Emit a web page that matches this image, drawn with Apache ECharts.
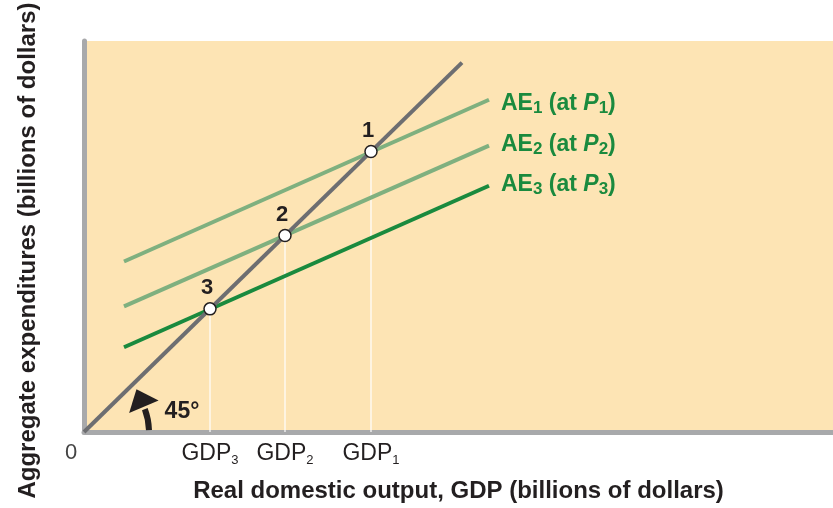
<!DOCTYPE html>
<html>
<head>
<meta charset="utf-8">
<script src="https://cdn.jsdelivr.net/npm/echarts@6/dist/echarts.min.js"></script>
<style>
  html, body { margin: 0; padding: 0; background: #fff; }
  #chart { width: 833px; height: 508px; }
</style>
</head>
<body>
<div id="chart"></div>
<script>
// x runs 0..749, y 0..400 so that y = x is the 45 degree line
const xMax = 749
const yMax = 400

const diagonal = [[0, 0], [378, 378]]
const ae1 = [[40, 174.5], [405, 340]]
const ae2 = [[40, 128.6], [405, 293]]
const ae3 = [[40, 86.7], [405, 252]]

const equilibria = [[287, 287], [201, 201], [126, 126]]
const equilibriumNames = ['1', '2', '3']

const tickValues = [0, 126, 201, 287]
const tickLabels = ['{z|0}', '{m|GDP}{s|3}', '{m|GDP}{s|2}', '{m|GDP}{s|1}']

const aeLabels = [
  '{m|AE}{s|1}{m| (at }{i|P}{s|1}{m|)}',
  '{m|AE}{s|2}{m| (at }{i|P}{s|2}{m|)}',
  '{m|AE}{s|3}{m| (at }{i|P}{s|3}{m|)}'
]

const font = 'Liberation Sans, Arial, Helvetica, sans-serif'
const ink = '#231f20'
const bg = '#fde4b4'
const axisGray = '#a8a9ab'
const diagGray = '#6d6e71'
const lightGreen = '#7fb07f'
const darkGreen = '#1a8a3e'

const chart = echarts.init(document.getElementById('chart'))

function aeSeries(data, color, label, dy) {
  return {
    type: 'line',
    data: data,
    showSymbol: false,
    silent: true,
    z: 2,
    lineStyle: { color: color, width: 4, cap: 'butt' },
    endLabel: {
      show: true,
      distance: 12,
      offset: [0, dy],
      formatter: () => label,
      rich: {
        m: { fontFamily: font, fontSize: 23, fontWeight: 'bold', color: darkGreen, verticalAlign: 'bottom', padding: [0, 0, 2, 0] },
        i: { fontFamily: font, fontSize: 23, fontWeight: 'bold', fontStyle: 'italic', color: darkGreen, verticalAlign: 'bottom', padding: [0, 0, 2, 0] },
        s: { fontFamily: font, fontSize: 17, fontWeight: 'bold', color: darkGreen, verticalAlign: 'bottom' }
      }
    }
  }
}

const dropLines = equilibria.map(p => ({
  type: 'line',
  data: [[p[0], 0], p],
  showSymbol: false,
  silent: true,
  z: 1,
  lineStyle: { color: '#ffffff', width: 1.2 }
}))

chart.setOption({
  animation: false,
  grid: {
    left: 84,
    right: 0,
    top: 41,
    bottom: 75,
    show: true,
    backgroundColor: bg,
    borderWidth: 0
  },
  xAxis: {
    type: 'value',
    min: 0,
    max: xMax,
    splitLine: { show: false },
    axisTick: { show: false },
    axisLine: { lineStyle: { color: axisGray, width: 5 } },
    axisLabel: {
      customValues: tickValues,
      margin: 10,
      formatter: v => tickLabels[tickValues.indexOf(v)],
      rich: {
        z: { fontFamily: font, fontSize: 22, color: '#444', verticalAlign: 'bottom', padding: [0, 26, 2, 0] },
        m: { fontFamily: font, fontSize: 23, color: ink, verticalAlign: 'bottom', padding: [0, 0, 2, 0] },
        s: { fontFamily: font, fontSize: 13, color: ink, verticalAlign: 'bottom' }
      }
    },
    name: 'Real domestic output, GDP (billions of dollars)',
    nameLocation: 'middle',
    nameGap: 47,
    nameTextStyle: { fontFamily: font, fontSize: 24, fontWeight: 'bold', color: ink }
  },
  yAxis: {
    type: 'value',
    min: 0,
    max: yMax,
    splitLine: { show: false },
    axisTick: { show: false },
    axisLabel: { show: false },
    axisLine: { lineStyle: { color: axisGray, width: 5 } },
    name: 'Aggregate expenditures (billions of dollars)',
    nameLocation: 'middle',
    nameGap: 44,
    nameTextStyle: { fontFamily: font, fontSize: 24, fontWeight: 'bold', color: ink, padding: [0, 28, 0, 0] }
  },
  series: [
    ...dropLines,
    aeSeries(ae1, lightGreen, aeLabels[0], 5),
    aeSeries(ae2, lightGreen, aeLabels[1], 0),
    aeSeries(ae3, darkGreen, aeLabels[2], 0),
    {
      type: 'line',
      data: diagonal,
      showSymbol: false,
      silent: true,
      z: 3,
      lineStyle: { color: diagGray, width: 4, cap: 'butt' }
    },
    {
      type: 'scatter',
      data: equilibria,
      symbol: 'circle',
      symbolSize: 12,
      silent: true,
      z: 10,
      itemStyle: { color: '#ffffff', borderColor: ink, borderWidth: 1.5, opacity: 1 },
      label: {
        show: true,
        position: 'top',
        distance: 3,
        offset: [-3, 0],
        formatter: p => equilibriumNames[p.dataIndex],
        fontFamily: font,
        fontSize: 22,
        fontWeight: 'bold',
        color: ink
      }
    },
    {
      // the curved 45° arrow at the origin
      type: 'custom',
      silent: true,
      z: 10,
      data: [[0, 0]],
      renderItem(params, api) {
        const o = api.coord([0, 0])
        const r = 65
        const a = 0.4
        const bx = o[0] + r * Math.cos(a)
        const by = o[1] - r * Math.sin(a)
        const ux = Math.cos(a), uy = -Math.sin(a)
        const tx = -Math.sin(a), ty = -Math.cos(a)
        return {
          type: 'group',
          children: [
            {
              type: 'arc',
              shape: { cx: o[0], cy: o[1], r: r, startAngle: -0.03, endAngle: -a + 0.04, clockwise: false },
              style: { stroke: ink, lineWidth: 6, fill: null }
            },
            {
              type: 'polygon',
              shape: { points: [[bx + 16 * ux, by + 16 * uy], [bx - 16 * ux, by - 16 * uy], [bx + 19 * tx, by + 19 * ty]] },
              style: { fill: ink }
            },
            {
              type: 'text',
              x: o[0] + 98,
              y: o[1] - 20,
              style: { text: '45°', fontFamily: font, fontSize: 23, fontWeight: 'bold', fill: ink, align: 'center', verticalAlign: 'middle' }
            }
          ]
        }
      }
    }
  ]
})
</script>
</body>
</html>
